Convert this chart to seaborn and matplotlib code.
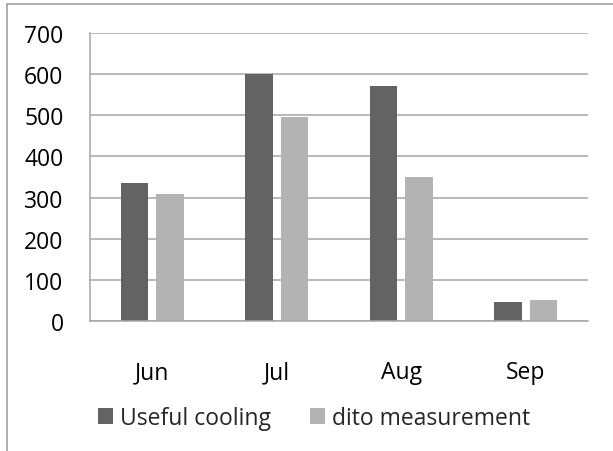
import matplotlib
matplotlib.use("Agg")
import matplotlib.pyplot as plt
from matplotlib.lines import Line2D
from matplotlib.patches import Patch
import seaborn as sns
import pandas as pd

months = ["Jun", "Jul", "Aug", "Sep"]
useful_cooling = [336, 600, 572, 46]
dito_measurement = [308, 497, 350, 50]
series_names = ["Useful cooling", "dito measurement"]
y_ticks = [0, 100, 200, 300, 400, 500, 600, 700]

df = pd.DataFrame({
    "month": months * 2,
    "value": useful_cooling + dito_measurement,
    "series": [series_names[0]] * len(months) + [series_names[1]] * len(months),
})

sns.set_theme(style="white")
plt.rcParams["font.family"] = ["Open Sans", "DejaVu Sans"]

colors = {series_names[0]: "#636363", series_names[1]: "#b3b3b3"}
grid_color = "#a6a6a6"
font_size = 16.5

fig = plt.figure(figsize=(6.13, 4.52), dpi=100)
W, H = 613, 452
ax = fig.add_axes([90 / W, 1 - 322 / H, (588 - 90) / W, (322 - 34) / H])

sns.barplot(data=df, x="month", y="value", hue="series", order=months,
            hue_order=series_names, palette=colors, width=0.57, gap=0.23,
            linewidth=0, saturation=1, ax=ax, legend=False)

ax.set_ylim(0, 700)
ax.set_xlim(-0.5, 3.5)
ax.set_yticks(y_ticks)
ax.set_xlabel("")
ax.set_ylabel("")
ax.yaxis.grid(True, color=grid_color, linewidth=1.1)
ax.set_axisbelow(True)
for side in ["top", "right"]:
    ax.spines[side].set_visible(False)
for side in ["left", "bottom"]:
    ax.spines[side].set_color(grid_color)
    ax.spines[side].set_linewidth(1.1)
ax.tick_params(axis="y", length=0, pad=19, labelsize=font_size, labelcolor="black")
ax.tick_params(axis="x", length=0, pad=28, labelsize=font_size, labelcolor="black")

# outer chart frame (left and top edges)
frame_color = "#a8a8a8"
fig.add_artist(Line2D([7 / W, 7 / W], [0, 1 - 5 / H], transform=fig.transFigure,
                      color=frame_color, linewidth=1.3))
fig.add_artist(Line2D([7 / W, 1], [1 - 5 / H, 1 - 5 / H], transform=fig.transFigure,
                      color=frame_color, linewidth=1.3))

handles = [Patch(facecolor=colors[s], edgecolor="none", label=s) for s in series_names]
fig.legend(handles=handles, loc="center", bbox_to_anchor=(314 / W, 1 - 419 / H),
           ncol=2, frameon=False, fontsize=font_size, handlelength=0.65, handleheight=0.65,
           handletextpad=0.3, columnspacing=1.7)

fig.savefig("out.png", dpi=100, facecolor="white")
